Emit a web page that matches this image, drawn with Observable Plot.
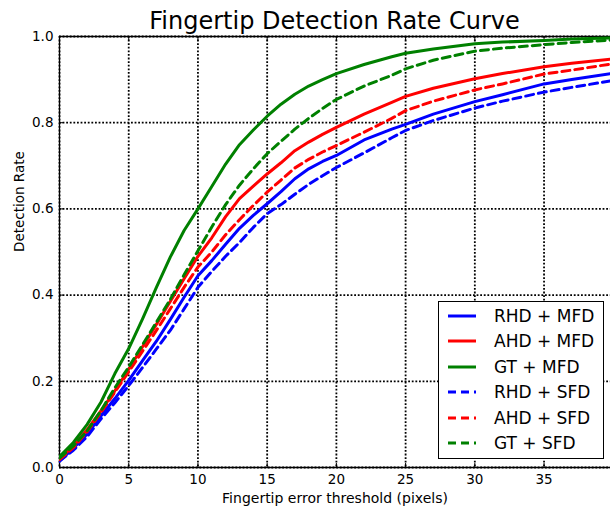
<!DOCTYPE html>
<html>
<head>
<meta charset="utf-8">
<script src="https://cdn.jsdelivr.net/npm/d3@7"></script>
<script src="https://cdn.jsdelivr.net/npm/@observablehq/plot@0.6"></script>
<style>
  html, body { margin: 0; padding: 0; background: white; }
  #wrap { position: relative; width: 610px; height: 508px; overflow: hidden; font-family: "DejaVu Sans", sans-serif; }
  #title { box-sizing: border-box; height: 30px; padding-top: 9px; padding-left: 59px; text-align: center; font-size: 24px; line-height: 24px; color: black; white-space: nowrap; }
  #legend { position: absolute; left: 438px; top: 301px; width: 166px; height: 158px; box-sizing: border-box; border: 1px solid black; background: white; padding-top: 1px; }
  .row { height: 25.5px; display: flex; align-items: center; font-size: 17px; color: black; }
  .row svg { margin-left: 9px; margin-right: 18px; }
</style>
</head>
<body>
<div id="wrap">
  <div id="title"></div>
  <div id="chart"></div>
  <div id="legend"></div>
</div>
<script>
const titleText = "Fingertip Detection Rate Curve";
const xLabel = "Fingertip error threshold (pixels)";
const yLabel = "Detection Rate";

const xTicks = [0, 5, 10, 15, 20, 25, 30, 35];
const yTicks = [0, 0.2, 0.4, 0.6, 0.8, 1.0];

const thresholds = [0,1,2,3,4,5,6,7,8,9,10,11,12,13,14,15,16,17,18,19,20,22,24,25,27,30,32,35,37,40];

const seriesNames = ["RHD + MFD", "AHD + MFD", "GT + MFD", "RHD + SFD", "AHD + SFD", "GT + SFD"];

const rhdMfd = [0.015,0.045,0.078,0.12,0.16,0.202,0.248,0.293,0.343,0.395, 0.445,0.48,0.518,0.555,0.585,0.612,0.64,0.67,0.693,0.71, 0.724,0.76,0.785,0.796,0.82,0.849,0.865,0.89,0.9,0.915];
const ahdMfd = [0.02,0.05,0.088,0.132,0.178,0.228,0.28,0.332,0.385,0.438, 0.49,0.533,0.582,0.624,0.653,0.681,0.707,0.735,0.755,0.773, 0.789,0.82,0.847,0.861,0.88,0.902,0.914,0.93,0.938,0.948];
const gtMfd  = [0.025,0.058,0.10,0.152,0.218,0.276,0.345,0.418,0.488,0.55, 0.60,0.652,0.704,0.749,0.783,0.815,0.843,0.866,0.885,0.90, 0.914,0.935,0.953,0.961,0.971,0.983,0.987,0.991,0.994,0.997];
const rhdSfd = [0.015,0.04,0.072,0.113,0.15,0.19,0.232,0.275,0.318,0.368, 0.418,0.455,0.49,0.522,0.557,0.589,0.61,0.634,0.657,0.677, 0.696,0.73,0.765,0.782,0.805,0.834,0.85,0.871,0.882,0.898];
const ahdSfd = [0.018,0.046,0.083,0.128,0.175,0.222,0.27,0.318,0.368,0.418, 0.465,0.50,0.54,0.575,0.608,0.639,0.667,0.695,0.715,0.732, 0.747,0.778,0.81,0.828,0.85,0.876,0.89,0.913,0.922,0.937];
const gtSfd  = [0.022,0.05,0.085,0.132,0.185,0.233,0.285,0.337,0.39,0.447, 0.503,0.558,0.61,0.655,0.693,0.728,0.757,0.785,0.81,0.833, 0.854,0.885,0.91,0.925,0.945,0.966,0.973,0.981,0.986,0.992];

const seriesValues = [rhdMfd, ahdMfd, gtMfd, rhdSfd, ahdSfd, gtSfd];
const seriesColors = ["#0000ff", "#ff0000", "#008000", "#0000ff", "#ff0000", "#008000"];
const seriesDash = [null, null, null, "8,5", "8,5", "8,5"];

document.getElementById("title").textContent = titleText;

const font = "DejaVu Sans";
const gridStyle = {stroke: "black", strokeOpacity: 1, strokeWidth: 1.8, strokeDasharray: "1.8,1.8"};

const lineMarks = seriesNames.map((name, i) => {
  const rows = thresholds.map((t, j) => ({x: t, y: seriesValues[i][j], series: name}));
  return Plot.line(rows, {
    x: "x", y: "y",
    stroke: seriesColors[i],
    strokeWidth: 3,
    strokeDasharray: seriesDash[i] ?? undefined,
    strokeLinejoin: "round",
    clip: true
  });
});

const chart = Plot.plot({
  width: 610,
  height: 478,
  marginLeft: 59,
  marginRight: 0,
  marginTop: 6,
  marginBottom: 41,
  x: {domain: [0, 39.8]},
  y: {domain: [0, 1]},
  style: {fontFamily: font, fontSize: "13px", color: "black", background: "white", overflow: "visible"},
  marks: [
    Plot.gridX(xTicks, gridStyle),
    Plot.gridY(yTicks, gridStyle),
    Plot.ruleX([0], {stroke: "black", strokeWidth: 1.3}),
    Plot.ruleY([0, 1], {stroke: "black", strokeWidth: 1.3}),
    Plot.axisX(xTicks, {anchor: "bottom", tickSize: -4, fill: "none", label: null}),
    Plot.axisX(xTicks, {anchor: "top", tickSize: -4, fill: "none", label: null}),
    Plot.axisY(yTicks, {anchor: "left", tickSize: -4, fill: "none", label: null}),
    Plot.axisX(xTicks, {anchor: "bottom", tickSize: 0, tickPadding: 7, fontSize: 13.5, label: null}),
    Plot.axisY(yTicks, {anchor: "left", tickSize: 0, tickPadding: 6, fontSize: 13.5, tickFormat: d3.format(".1f"), label: null}),
    ...lineMarks,
    Plot.text([xLabel], {text: d => d, frameAnchor: "bottom", lineAnchor: "middle", dy: 31, fontSize: 14, fill: "black"}),
    Plot.text([yLabel], {text: d => d, frameAnchor: "left", lineAnchor: "middle", rotate: -90, dx: -40, fontSize: 13.5, fill: "black"})
  ]
});
document.getElementById("chart").appendChild(chart);

const legend = document.getElementById("legend");
seriesNames.forEach((name, i) => {
  const row = document.createElement("div");
  row.className = "row";
  const dash = seriesDash[i] ? ` stroke-dasharray="8,5"` : "";
  row.innerHTML = `<svg width="28" height="6"><line x1="0" y1="3" x2="28" y2="3" stroke="${seriesColors[i]}" stroke-width="3"${dash}/></svg><span>${name}</span>`;
  legend.appendChild(row);
});
</script>
</body>
</html>
